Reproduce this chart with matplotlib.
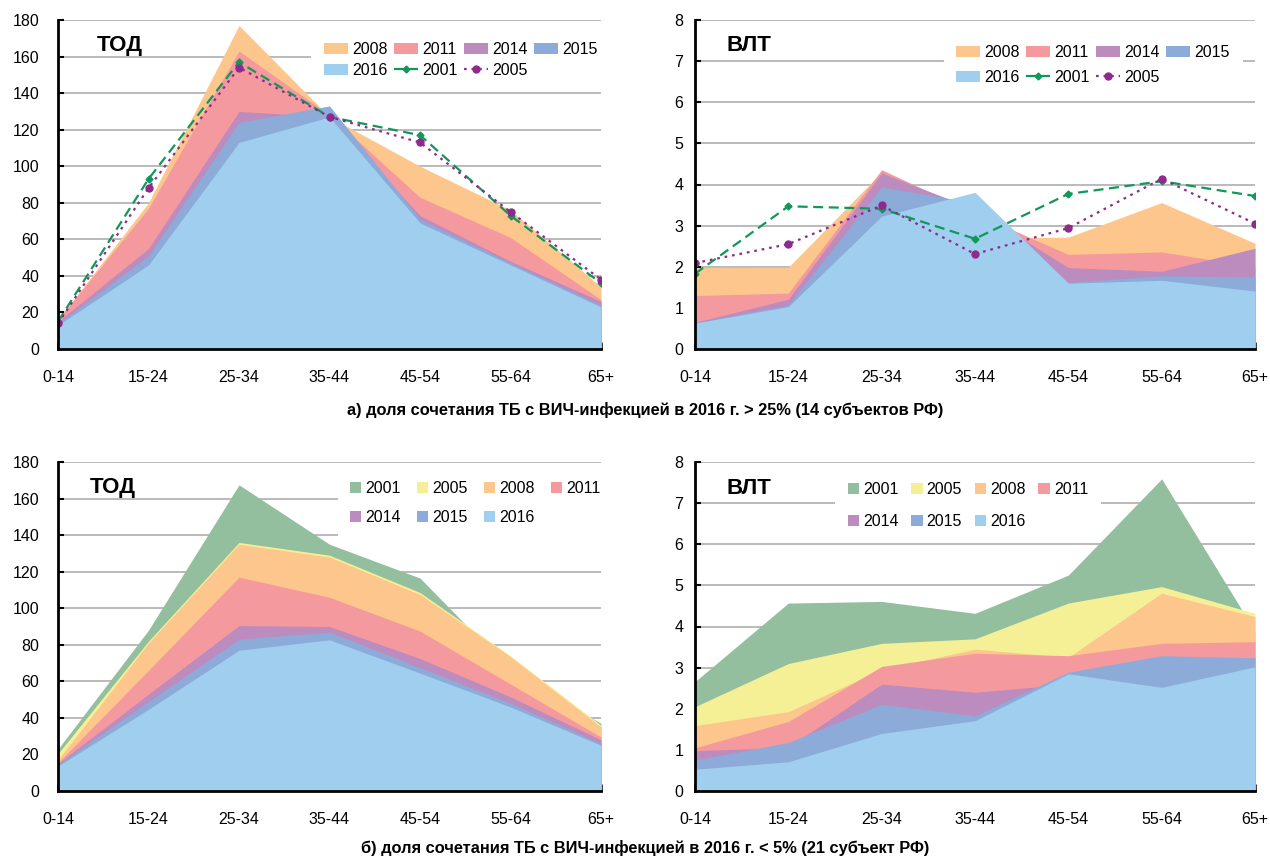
import matplotlib
matplotlib.use("Agg")
import matplotlib.pyplot as plt
import numpy as np

plt.rcParams["font.family"] = ["Liberation Sans", "DejaVu Sans"]

ages = ["0-14", "15-24", "25-34", "35-44", "45-54", "55-64", "65+"]

# a) share of TB/HIV > 25% -- TOD
a_tod_2008 = [16, 80, 177, 127, 100, 76, 34]
a_tod_2011 = [16, 77, 163, 128, 83, 61, 27]
a_tod_2014 = [15, 55, 130, 127, 73, 48, 26]
a_tod_2015 = [14, 51, 124, 133, 71, 47, 24]
a_tod_2016 = [13, 46, 113, 127, 69, 46, 23]
a_tod_2001 = [15, 93, 157, 127, 117, 73, 36]
a_tod_2005 = [14, 88, 154, 127, 113, 75, 38]

# a) -- VLT
a_vlt_2008 = [1.98, 1.99, 4.30, 2.70, 2.72, 3.56, 2.57]
a_vlt_2011 = [1.30, 1.36, 4.36, 3.30, 2.30, 2.36, 2.00]
a_vlt_2014 = [0.65, 1.21, 4.28, 3.40, 1.98, 1.89, 2.45]
a_vlt_2015 = [0.64, 1.07, 3.94, 3.55, 1.62, 1.78, 1.75]
a_vlt_2016 = [0.63, 1.03, 3.23, 3.81, 1.60, 1.67, 1.41]
a_vlt_2001 = [1.83, 3.47, 3.41, 2.68, 3.77, 4.08, 3.72]
a_vlt_2005 = [2.09, 2.55, 3.49, 2.31, 2.94, 4.14, 3.05]

# б) share of TB/HIV < 5% -- TOD
b_tod_2001 = [23, 88, 167.5, 135, 116.5, 66, 37]
b_tod_2005 = [20.5, 82, 136, 129, 108.6, 74, 36]
b_tod_2008 = [17, 81, 135, 128, 107.5, 73.5, 35]
b_tod_2011 = [15.5, 66, 117, 106, 87.5, 58.5, 29.5]
b_tod_2014 = [15, 53, 90.5, 90, 72.5, 51.5, 28]
b_tod_2015 = [14.5, 49, 83, 87, 67.5, 48, 26]
b_tod_2016 = [13.7, 44.7, 77, 82.7, 64.5, 46, 25]

# б) -- VLT
b_vlt_2001 = [2.66, 4.57, 4.61, 4.32, 5.25, 7.59, 3.88]
b_vlt_2005 = [2.05, 3.10, 3.59, 3.70, 4.57, 4.97, 4.32]
b_vlt_2008 = [1.59, 1.93, 2.95, 3.45, 3.25, 4.81, 4.24]
b_vlt_2011 = [1.05, 1.69, 3.03, 3.35, 3.29, 3.59, 3.63]
b_vlt_2014 = [0.98, 1.06, 2.60, 2.40, 2.60, 2.90, 3.00]
b_vlt_2015 = [0.75, 1.18, 2.11, 1.83, 2.89, 3.29, 3.24]
b_vlt_2016 = [0.53, 0.71, 1.40, 1.71, 2.85, 2.52, 3.02]

colors = {
    "2001": "#93BF9E",
    "2005": "#F5F096",
    "2008": "#FCC68C",
    "2011": "#F49A9E",
    "2014": "#BC8CBE",
    "2015": "#8DABD8",
    "2016": "#A0CEEE",
}
line_2001 = "#12975A"
line_2005 = "#8E2A8C"

FS = 11.5
x = np.arange(len(ages))

fig = plt.figure(figsize=(12.7, 8.57), dpi=100)


def make_axes(rect, ymax, ystep, ypad):
    ax = fig.add_axes(rect)
    ax.set_xlim(0, len(ages) - 1)
    ax.set_ylim(0, ymax)
    ax.set_yticks(np.arange(0, ymax + ystep / 2, ystep))
    ax.set_xticks(x)
    ax.set_xticklabels(ages)
    ax.yaxis.grid(True, color="#b4b4b4", lw=1.3)
    ax.set_axisbelow(True)
    for s in ("top", "right"):
        ax.spines[s].set_visible(False)
    for s in ("left", "bottom"):
        ax.spines[s].set_linewidth(2)
        ax.spines[s].set_color("black")
        ax.spines[s].set_zorder(10)
    ax.tick_params(axis="x", direction="in", length=5, width=1.8, pad=15, labelsize=FS)
    ax.tick_params(axis="y", direction="in", length=4, width=1.5, pad=ypad, labelsize=FS)
    return ax


def areas(ax, series):
    handles = {}
    for i, (year, vals) in enumerate(series):
        handles[year] = ax.fill_between(x, 0, vals, color=colors[year], lw=0,
                                        zorder=2 + i, label=year)
    return handles


rect_tl = [58 / 1270, 1 - 349 / 857, 543 / 1270, 329 / 857]
rect_tr = [695 / 1270, 1 - 349 / 857, 560 / 1270, 329 / 857]
rect_bl = [58 / 1270, 1 - 791 / 857, 543 / 1270, 329 / 857]
rect_br = [695 / 1270, 1 - 791 / 857, 560 / 1270, 329 / 857]

leg_kw = dict(loc="upper left", borderaxespad=0, fontsize=FS, frameon=True,
              facecolor="white", edgecolor="none", framealpha=1, fancybox=False,
              handletextpad=0.26, borderpad=0.8)

# ---- top left: TOD ----
ax = make_axes(rect_tl, 180, 20, 13.5)
h = areas(ax, [("2008", a_tod_2008), ("2011", a_tod_2011), ("2014", a_tod_2014),
               ("2015", a_tod_2015), ("2016", a_tod_2016)])
l01, = ax.plot(x, a_tod_2001, color=line_2001, lw=1.6, dashes=(4.5, 2.5),
               marker="D", ms=3.5, zorder=9, label="2001")
l05, = ax.plot(x, a_tod_2005, color=line_2005, lw=1.6, dashes=(1.2, 2.2),
               marker="o", ms=5, zorder=9, label="2005")
ax.text(0.072, 0.924, "ТОД", transform=ax.transAxes, fontsize=16,
        fontweight="bold", va="center", ha="left")
ax.legend([h["2008"], h["2016"], h["2011"], l01, h["2014"], l05, h["2015"]],
          ["2008", "2016", "2011", "2001", "2014", "2005", "2015"],
          ncol=4, bbox_to_anchor=(0.466, 0.971), handlelength=1.5,
          columnspacing=0.4, labelspacing=0.36, **leg_kw)

# ---- top right: VLT ----
ax = make_axes(rect_tr, 8, 1, 8.5)
h = areas(ax, [("2008", a_vlt_2008), ("2011", a_vlt_2011), ("2014", a_vlt_2014),
               ("2015", a_vlt_2015), ("2016", a_vlt_2016)])
l01, = ax.plot(x, a_vlt_2001, color=line_2001, lw=1.6, dashes=(4.5, 2.5),
               marker="D", ms=3.5, zorder=9, label="2001")
l05, = ax.plot(x, a_vlt_2005, color=line_2005, lw=1.6, dashes=(1.2, 2.2),
               marker="o", ms=5, zorder=9, label="2005")
ax.text(0.057, 0.924, "ВЛТ", transform=ax.transAxes, fontsize=16,
        fontweight="bold", va="center", ha="left")
ax.legend([h["2008"], h["2016"], h["2011"], l01, h["2014"], l05, h["2015"]],
          ["2008", "2016", "2011", "2001", "2014", "2005", "2015"],
          ncol=4, bbox_to_anchor=(0.444, 0.962), handlelength=1.5,
          columnspacing=0.4, labelspacing=0.61, **leg_kw)

# ---- bottom left: TOD ----
ax = make_axes(rect_bl, 180, 20, 13.5)
h = areas(ax, [("2001", b_tod_2001), ("2005", b_tod_2005), ("2008", b_tod_2008),
               ("2011", b_tod_2011), ("2014", b_tod_2014), ("2015", b_tod_2015),
               ("2016", b_tod_2016)])
ax.text(0.059, 0.924, "ТОД", transform=ax.transAxes, fontsize=16,
        fontweight="bold", va="center", ha="left")
order = ["2001", "2014", "2005", "2015", "2008", "2016", "2011"]
ax.legend([h[k] for k in order], order, ncol=4, bbox_to_anchor=(0.515, 0.981),
          handlelength=0.66, handleheight=0.7, columnspacing=1.05,
          labelspacing=0.86, **leg_kw)

# ---- bottom right: VLT ----
ax = make_axes(rect_br, 8, 1, 8.5)
h = areas(ax, [("2001", b_vlt_2001), ("2005", b_vlt_2005), ("2008", b_vlt_2008),
               ("2011", b_vlt_2011), ("2014", b_vlt_2014), ("2015", b_vlt_2015),
               ("2016", b_vlt_2016)])
ax.text(0.057, 0.918, "ВЛТ", transform=ax.transAxes, fontsize=16,
        fontweight="bold", va="center", ha="left")
ax.legend([h[k] for k in order], order, ncol=4, bbox_to_anchor=(0.25, 0.978),
          handlelength=0.7, handleheight=0.7, columnspacing=0.8,
          labelspacing=1.05, **leg_kw)

fig.text(0.508, 1 - 410 / 857,
         "а) доля сочетания ТБ с ВИЧ-инфекцией в 2016 г. > 25% (14 субъектов РФ)",
         ha="center", va="center", fontsize=11.8, fontweight="bold")
fig.text(0.508, 1 - 848 / 857,
         "б) доля сочетания ТБ с ВИЧ-инфекцией в 2016 г. < 5% (21 субъект РФ)",
         ha="center", va="center", fontsize=11.8, fontweight="bold")

fig.savefig("out.png", dpi=100)
